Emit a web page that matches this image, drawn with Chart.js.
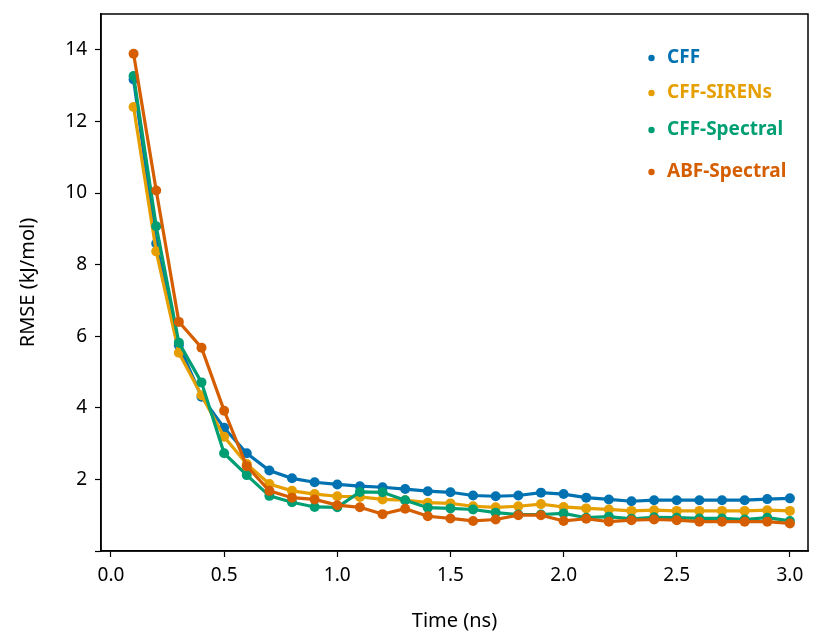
<!DOCTYPE html>
<html>
<head>
<meta charset="utf-8">
<script src="https://cdn.jsdelivr.net/npm/chart.js@4.4.1/dist/chart.umd.min.js"></script>
<style>
  html, body { margin: 0; padding: 0; background: #fff; }
  #wrap { width: 817px; height: 637px; }
</style>
</head>
<body>
<div id="wrap"><canvas id="rmseChart"></canvas></div>
<script>
const times = [0.1, 0.2, 0.3, 0.4, 0.5, 0.6, 0.7, 0.8, 0.9, 1.0,
               1.1, 1.2, 1.3, 1.4, 1.5, 1.6, 1.7, 1.8, 1.9, 2.0,
               2.1, 2.2, 2.3, 2.4, 2.5, 2.6, 2.7, 2.8, 2.9, 3.0];

const cff = [13.17, 8.59, 5.75, 4.31, 3.44, 2.73, 2.25, 2.03, 1.92, 1.86,
             1.81, 1.78, 1.73, 1.67, 1.64, 1.55, 1.53, 1.55, 1.63, 1.59,
             1.49, 1.44, 1.39, 1.42, 1.42, 1.42, 1.42, 1.42, 1.45, 1.47];
const cffSirens = [12.40, 8.37, 5.54, 4.35, 3.19, 2.43, 1.87, 1.68, 1.59, 1.53,
                   1.51, 1.44, 1.42, 1.35, 1.33, 1.25, 1.22, 1.25, 1.31, 1.23,
                   1.19, 1.16, 1.12, 1.14, 1.12, 1.12, 1.12, 1.12, 1.14, 1.12];
const cffSpectral = [13.27, 9.07, 5.82, 4.71, 2.73, 2.12, 1.54, 1.36, 1.23, 1.22,
                     1.65, 1.64, 1.42, 1.21, 1.19, 1.16, 1.07, 1.02, 1.02, 1.05,
                     0.93, 0.96, 0.90, 0.94, 0.93, 0.91, 0.91, 0.88, 0.93, 0.84];
const abfSpectral = [13.89, 10.07, 6.40, 5.68, 3.92, 2.37, 1.68, 1.49, 1.44, 1.28,
                     1.22, 1.03, 1.18, 0.97, 0.91, 0.84, 0.88, 1.00, 1.00, 0.84,
                     0.90, 0.82, 0.86, 0.88, 0.86, 0.82, 0.82, 0.82, 0.82, 0.77];

const seriesNames = ['CFF', 'CFF-SIRENs', 'CFF-Spectral', 'ABF-Spectral'];
const seriesColors = ['#0072B2', '#E69F00', '#009E73', '#D55E00'];
const seriesValues = [cff, cffSirens, cffSpectral, abfSpectral];

const xTicks = [0.0, 0.5, 1.0, 1.5, 2.0, 2.5, 3.0];
const yTicks = [0, 2, 4, 6, 8, 10, 12, 14];

const fontFamily = '"Noto Sans", "Open Sans", sans-serif';

// later series are drawn on top, like the original
const datasets = seriesValues.map((vals, i) => ({
  label: seriesNames[i],
  data: vals.map((v, k) => ({ x: times[k], y: v })),
  borderColor: seriesColors[i],
  backgroundColor: seriesColors[i],
  borderWidth: 3.2,
  pointRadius: 5,
  pointHoverRadius: 5,
  pointBorderWidth: 0,
  order: seriesValues.length - i
}));

// frame around the plot area (top/right spines)
const framePlugin = {
  id: 'frame',
  afterDraw(chart) {
    const { ctx, chartArea } = chart;
    ctx.save();
    ctx.strokeStyle = '#000';
    ctx.lineWidth = 1.5;
    ctx.strokeRect(chartArea.left, chartArea.top,
                   chartArea.right - chartArea.left, chartArea.bottom - chartArea.top);
    ctx.restore();
  }
};

// legend drawn inside the plot, top right
const insideLegend = {
  id: 'insideLegend',
  afterDraw(chart) {
    const { ctx } = chart;
    const rows = [58, 93, 130, 172];
    ctx.save();
    ctx.font = 'bold 19px ' + fontFamily;
    ctx.textBaseline = 'middle';
    seriesNames.forEach((name, i) => {
      ctx.fillStyle = seriesColors[i];
      ctx.beginPath();
      ctx.arc(651.5, rows[i], 3.2, 0, Math.PI * 2);
      ctx.fill();
      ctx.fillText(name, 667, rows[i]);
    });
    ctx.restore();
  }
};

new Chart(document.getElementById('rmseChart'), {
  type: 'line',
  data: { datasets },
  options: {
    responsive: true,
    maintainAspectRatio: false,
    animation: false,
    layout: { padding: { top: 14, right: 9, left: 12, bottom: 0 } },
    plugins: {
      legend: { display: false },
      tooltip: { enabled: false }
    },
    scales: {
      x: {
        type: 'linear',
        min: -0.044,
        max: 3.08,
        afterFit(scale) {
          scale.height = 86;
          scale.paddingLeft = 0;
          scale.paddingRight = 0;
        },
        afterBuildTicks(scale) { scale.ticks = xTicks.map(v => ({ value: v })); },
        border: { display: true, color: '#000', width: 1.5 },
        grid: { drawOnChartArea: false, drawTicks: true, tickLength: 6, tickColor: '#000', tickWidth: 1.2 },
        ticks: {
          color: '#000',
          padding: 7,
          font: { family: fontFamily, size: 19 },
          maxRotation: 0,
          callback: v => v.toFixed(1)
        },
        title: {
          display: true,
          text: 'Time (ns)',
          color: '#000',
          font: { family: fontFamily, size: 20 },
          padding: { top: 25 }
        }
      },
      y: {
        type: 'linear',
        min: 0,
        max: 15,
        afterFit(scale) {
          scale.width = 89;
          scale.paddingTop = 0;
          scale.paddingBottom = 0;
        },
        afterBuildTicks(scale) { scale.ticks = yTicks.map(v => ({ value: v })); },
        border: { display: true, color: '#000', width: 1.5 },
        grid: { drawOnChartArea: false, drawTicks: true, tickLength: 6, tickColor: '#000', tickWidth: 1.2 },
        ticks: {
          color: '#000',
          padding: 8,
          font: { family: fontFamily, size: 19 },
          callback: v => (v === 0 ? '' : String(v))
        },
        title: {
          display: true,
          text: 'RMSE (kJ/mol)',
          color: '#000',
          font: { family: fontFamily, size: 20 },
          padding: { bottom: 8 }
        }
      }
    }
  },
  plugins: [framePlugin, insideLegend]
});
</script>
</body>
</html>
